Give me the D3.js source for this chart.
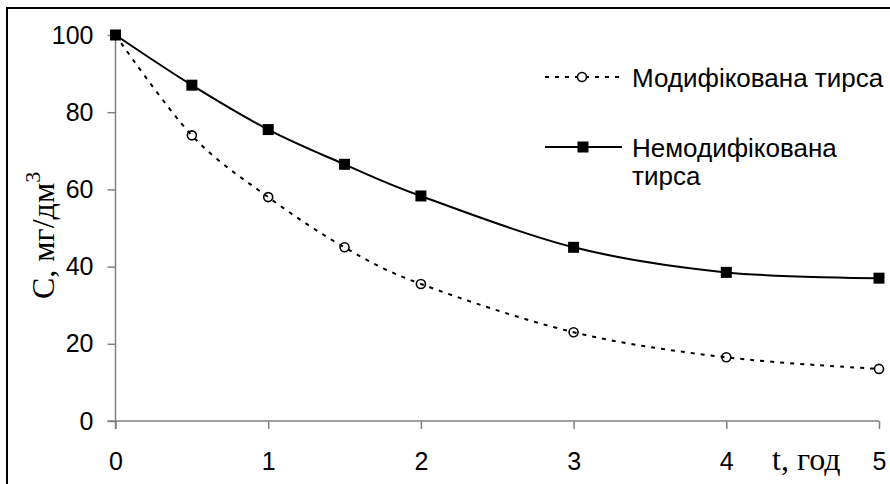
<!DOCTYPE html>
<html>
<head>
<meta charset="utf-8">
<script src="https://cdn.jsdelivr.net/npm/d3@7"></script>
<style>
  body { margin: 0; background: #fff; }
  svg { display: block; }
  .tick text { font-family: "Liberation Sans", Arial, sans-serif; font-size: 25px; fill: #000; }
  .axis path, .axis line { stroke: #808080; stroke-width: 1.5; }
  .title { font-family: "Liberation Serif", "Times New Roman", serif; font-size: 32px; fill: #000; }
  .legend text { font-family: "Liberation Sans", Arial, sans-serif; font-size: 26px; fill: #000; }
</style>
</head>
<body>
<svg width="890" height="484"></svg>
<script>
const svg = d3.select("svg");

// data
const hours = [0, 0.5, 1, 1.5, 2, 3, 4, 5];
const modified = [100, 74, 58, 45, 35.5, 23, 16.5, 13.5];
const unmodified = [100, 87, 75.5, 66.5, 58.3, 45, 38.5, 37];
const xTicks = [0, 1, 2, 3, 4, 5];
const yTicks = [0, 20, 40, 60, 80, 100];

const x = d3.scaleLinear().domain([0, 5]).range([115.5, 879]);
const y = d3.scaleLinear().domain([0, 100]).range([421, 35]);

// outer frame
svg.append("rect")
    .attr("x", 7).attr("y", 8)
    .attr("width", 900).attr("height", 500)
    .attr("fill", "none").attr("stroke", "#000").attr("stroke-width", 2);

// axes
const xAxis = svg.append("g")
    .attr("class", "axis")
    .attr("transform", `translate(0,${y(0)})`)
    .call(d3.axisBottom(x).tickValues(xTicks).tickFormat(d3.format("d"))
        .tickSize(8).tickSizeOuter(0).tickPadding(23));
xAxis.select(".domain").attr("d", `M${x(0) - 8},0H${x(5)}`);
xAxis.selectAll(".tick text").attr("dy", "0.71em");

const yAxis = svg.append("g")
    .attr("class", "axis")
    .attr("transform", `translate(${x(0)},0)`)
    .call(d3.axisLeft(y).tickValues(yTicks).tickFormat(d3.format("d"))
        .tickSize(8).tickSizeOuter(0).tickPadding(14));
yAxis.select(".domain").attr("d", `M0,${y(100)}V${y(0) + 8}`);

// axis titles
svg.append("text")
    .attr("class", "title")
    .attr("transform", "translate(54,299) rotate(-90)")
    .html('C, мг/дм<tspan dy="-14" font-size="22">3</tspan>');

svg.append("text")
    .attr("class", "title")
    .attr("x", 772).attr("y", 470)
    .text("t, год");

// series
const line = d3.line()
    .x((d, i) => x(hours[i]))
    .y(d => y(d))
    .curve(d3.curveCatmullRom.alpha(0));

svg.append("path")
    .datum(modified)
    .attr("d", line)
    .attr("fill", "none")
    .attr("stroke", "#000")
    .attr("stroke-width", 2)
    .attr("stroke-dasharray", "4,6");

svg.append("path")
    .datum(unmodified)
    .attr("d", line)
    .attr("fill", "none")
    .attr("stroke", "#000")
    .attr("stroke-width", 2);

svg.append("g").selectAll("circle")
    .data(modified)
    .enter().append("circle")
    .attr("cx", (d, i) => x(hours[i]))
    .attr("cy", d => y(d))
    .attr("r", 4.5)
    .attr("fill", "none")
    .attr("stroke", "#000")
    .attr("stroke-width", 1.6);

svg.append("g").selectAll("rect")
    .data(unmodified)
    .enter().append("rect")
    .attr("x", (d, i) => x(hours[i]) - 5.5)
    .attr("y", d => y(d) - 5.5)
    .attr("width", 11)
    .attr("height", 11)
    .attr("fill", "#000");

// legend
const legend = svg.append("g").attr("class", "legend");

legend.append("line")
    .attr("x1", 545).attr("x2", 622).attr("y1", 77).attr("y2", 77)
    .attr("stroke", "#000").attr("stroke-width", 2).attr("stroke-dasharray", "4,6");
legend.append("circle")
    .attr("cx", 582).attr("cy", 77).attr("r", 4.5)
    .attr("fill", "#fff").attr("stroke", "#000").attr("stroke-width", 1.6);
legend.append("text").attr("x", 632).attr("y", 87).text("Модифікована тирса");

legend.append("line")
    .attr("x1", 545).attr("x2", 622).attr("y1", 147).attr("y2", 147)
    .attr("stroke", "#000").attr("stroke-width", 2);
legend.append("rect")
    .attr("x", 577.5).attr("y", 141.5).attr("width", 11).attr("height", 11)
    .attr("fill", "#000");
legend.append("text").attr("x", 632).attr("y", 157).text("Немодифікована");
legend.append("text").attr("x", 632).attr("y", 185).text("тирса");
</script>
</body>
</html>
